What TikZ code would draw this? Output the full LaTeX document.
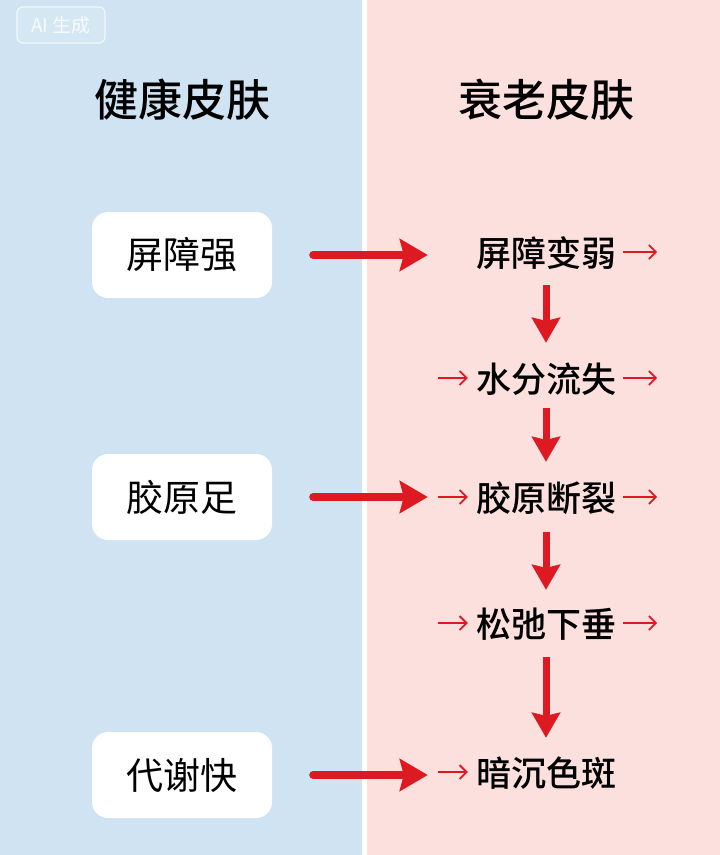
\documentclass[tikz,border=0pt]{standalone}
\usepackage{fontspec}
\setmainfont{Noto Sans CJK SC}
\newfontfamily\medfont{Noto Sans CJK SC}[UprightFont=* Medium]
\usetikzlibrary{arrows.meta,calc}
\definecolor{bluebg}{HTML}{CFE3F2}
\definecolor{pinkbg}{HTML}{FCE0DE}
\definecolor{arrred}{HTML}{DD1A22}
\begin{document}
\begin{tikzpicture}[x=1pt,y=-1pt,
  box/.style={fill=white, rounded corners=16pt, minimum width=180pt, minimum height=86pt,
    inner sep=0pt, font=\fontsize{37}{40}\selectfont},
  paneltitle/.style={inner sep=0pt, font=\fontsize{44}{48}\selectfont\medfont},
  stage/.style={inner sep=0pt, text height=32pt, text depth=3pt, font=\fontsize{35}{38}\selectfont\medfont},
  bigarrow/.style={draw=arrred, line width=8pt, line cap=round,
    -{Stealth[length=28pt,width=32pt,inset=4pt]}},
  downarrow/.style={draw=arrred, line width=7pt,
    -{Stealth[length=25pt,width=28pt,inset=3pt]}},
  smallarrow/.style={draw=arrred, line width=1.8pt,
    -{Straight Barb[length=7pt,width=14pt,line width=1.8pt]}},
  badge/.style={draw=white!70!bluebg, line width=1.2pt, fill=white!15!bluebg,
    rounded corners=6pt, minimum width=88pt, minimum height=36pt, inner sep=0pt,
    text=white!85!bluebg, font=\fontsize{19}{21}\selectfont}
]
\useasboundingbox (0,0) rectangle (720,855);
\fill[white] (0,0) rectangle (720,855);
\fill[bluebg] (0,0) rectangle (362,855);
\fill[pinkbg] (367,0) rectangle (720,855);

\node[badge] (ai) at (61,25) {AI 生成};

\node[paneltitle] (tl) at (182,100) {健康皮肤};
\node[paneltitle] (tr) at (546,100) {衰老皮肤};

\node[box] (b1) at (182,255) {屏障强};
\node[box] (b2) at (182,497) {胶原足};
\node[box] (b3) at (182,775) {代谢快};

\node[stage] (s1) at (546,252) {屏障变弱};
\node[stage] (s2) at (546,378) {水分流失};
\node[stage] (s3) at (546,497) {胶原断裂};
\node[stage] (s4) at (546,623) {松弛下垂};
\node[stage] (s5) at (546,772) {暗沉色斑};

% big horizontal arrows
\draw[bigarrow] ([xshift=41pt]b1.east) -- ($(b1.east -| s1.west)+(-48,0)$);
\draw[bigarrow] ([xshift=41pt]b2.east) -- ($(b2.east -| s3.west)+(-48,0)$);
\draw[bigarrow] ([xshift=41pt]b3.east) -- ($(b3.east -| s5.west)+(-48,0)$);

% down arrows
\draw[downarrow] ([yshift=-15.5pt]s1.south) -- ([yshift=17.5pt]s2.north);
\draw[downarrow] ([yshift=-12.5pt]s2.south) -- ([yshift=17.5pt]s3.north);
\draw[downarrow] ([yshift=-17.5pt]s3.south) -- ([yshift=15.5pt]s4.north);
\draw[downarrow] ([yshift=-16.5pt]s4.south) -- ([yshift=16.5pt]s5.north);

% small leading arrows
\foreach \s in {s2,s3,s4,s5}{
  \draw[smallarrow] ([xshift=-38pt]\s.west) -- ([xshift=-8pt]\s.west);
}
% small trailing arrows
\foreach \s in {s1,s2,s3,s4}{
  \draw[smallarrow] ([xshift=7pt]\s.east) -- ([xshift=41pt]\s.east);
}
\end{tikzpicture}
\end{document}
